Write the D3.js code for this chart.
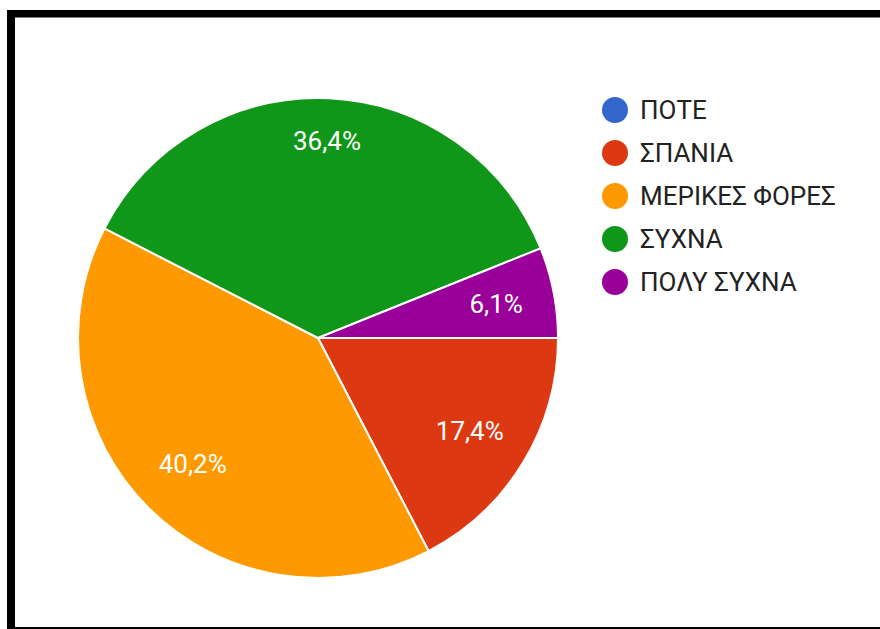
<!DOCTYPE html>
<html>
<head>
<meta charset="utf-8">
<script src="https://cdn.jsdelivr.net/npm/d3@7"></script>
<style>
  html, body { margin: 0; padding: 0; background: #fff; }
  svg { display: block; }
</style>
</head>
<body>
<svg id="chart" width="880" height="629"></svg>
<script>
// Answer categories and their shares (%)
const categories = ["ΠΟΤΕ", "ΣΠΑΝΙΑ", "ΜΕΡΙΚΕΣ ΦΟΡΕΣ", "ΣΥΧΝΑ", "ΠΟΛΥ ΣΥΧΝΑ"];
const values = [0, 17.4, 40.2, 36.4, 6.1];
const labels = ["", "17,4%", "40,2%", "36,4%", "6,1%"];
const colors = ["#3366cc", "#dc3912", "#ff9900", "#109618", "#990099"];

const svg = d3.select("#chart");
const W = 880, H = 629;

svg.append("rect").attr("width", W).attr("height", H).attr("fill", "#fff");

// Frame: thick left and top bars, thin bottom line
const frame = svg.append("g").attr("fill", "#000");
frame.append("rect").attr("x", 7).attr("y", 10).attr("width", 8).attr("height", H - 10);
frame.append("rect").attr("x", 7).attr("y", 10).attr("width", W - 7).attr("height", 7.5);
frame.append("rect").attr("x", 7).attr("y", 627).attr("width", W - 7).attr("height", 2);

// Pie
const cx = 318, cy = 338, radius = 240;
const data = categories.map((c, i) => ({ category: c, value: values[i], label: labels[i], color: colors[i] }));

const pie = d3.pie()
  .value(d => d.value)
  .sort(null)
  .startAngle(Math.PI / 2)
  .endAngle(Math.PI / 2 + 2 * Math.PI);

const arc = d3.arc().innerRadius(0).outerRadius(radius);

// Label position: along the slice's mid-angle; labels in the upper half sit a bit further out
function labelPos(d) {
  const a = (d.startAngle + d.endAngle) / 2;
  const up = Math.max(0, Math.cos(a));
  const r = radius * 0.74 + 20 * up;
  return [r * Math.sin(a), -r * Math.cos(a)];
}

const g = svg.append("g").attr("transform", `translate(${cx},${cy})`);
const arcs = pie(data).filter(d => d.data.value > 0);

g.selectAll("path.slice")
  .data(arcs)
  .join("path")
  .attr("class", "slice")
  .attr("d", arc)
  .attr("fill", d => d.data.color)
  .attr("stroke", "#fff")
  .attr("stroke-width", 2)
  .attr("stroke-linejoin", "round");

g.selectAll("text.pct")
  .data(arcs)
  .join("text")
  .attr("class", "pct")
  .attr("transform", d => `translate(${labelPos(d)})`)
  .attr("text-anchor", "middle")
  .attr("dy", "0.36em")
  .attr("fill", "#fff")
  .attr("font-family", "Roboto, sans-serif")
  .attr("font-size", 26)
  .text(d => d.data.label);

// Legend
const legend = svg.append("g").attr("transform", "translate(615,110)");
const step = 43;
const items = legend.selectAll("g.item")
  .data(data)
  .join("g")
  .attr("class", "item")
  .attr("transform", (d, i) => `translate(0,${i * step})`);

items.append("circle")
  .attr("r", 13)
  .attr("fill", d => d.color);

items.append("text")
  .attr("x", 25)
  .attr("dy", "0.36em")
  .attr("fill", "#222")
  .attr("font-family", "Roboto, sans-serif")
  .attr("font-size", 26)
  .text(d => d.category);
</script>
</body>
</html>
